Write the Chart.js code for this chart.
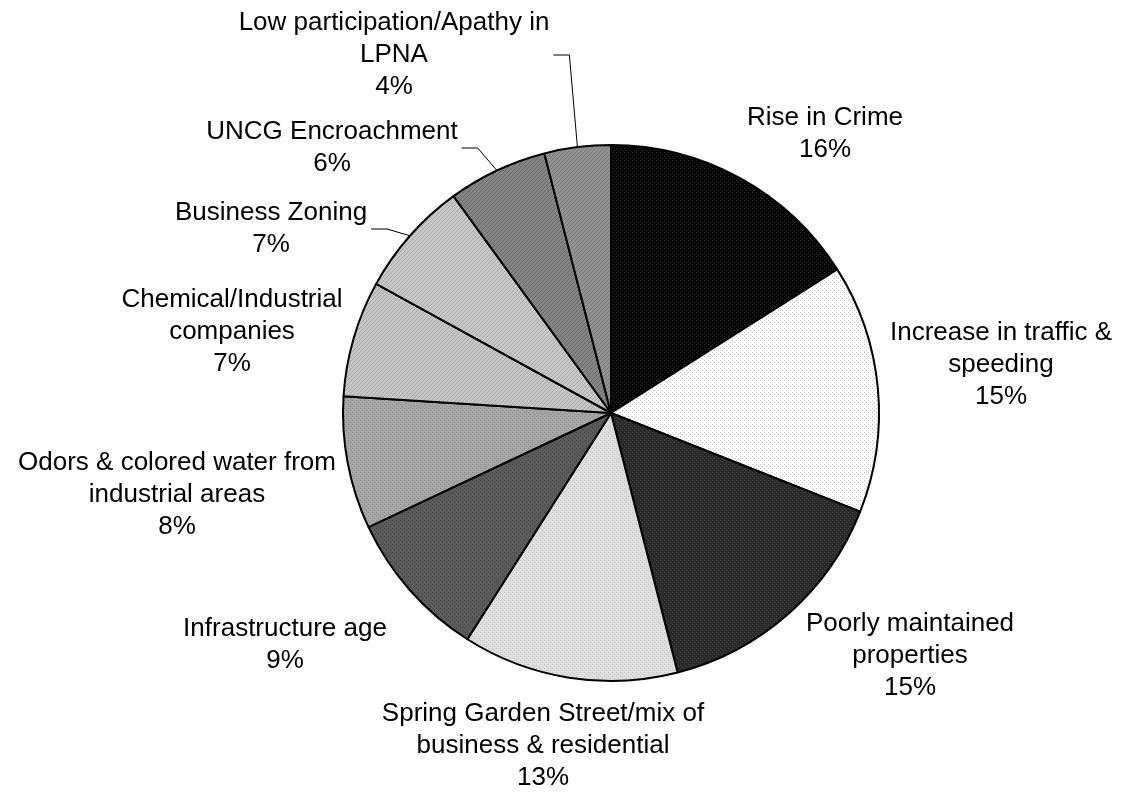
<!DOCTYPE html>
<html>
<head>
<meta charset="utf-8">
<script src="https://cdn.jsdelivr.net/npm/chart.js@4.4.1/dist/chart.umd.min.js"></script>
<style>
  body { margin: 0; background: #fff; }
  canvas { display: block; }
</style>
</head>
<body>
<canvas id="myChart" width="1122" height="793"></canvas>
<script>
// categories (as wrapped in the original) and their shares in %
var categories = [
   ["Rise in Crime"],
   ["Increase in traffic &", "speeding"],
   ["Poorly maintained", "properties"],
   ["Spring Garden Street/mix of", "business & residential"],
   ["Infrastructure age"],
   ["Odors & colored water from", "industrial areas"],
   ["Chemical/Industrial", "companies"],
   ["Business Zoning"],
   ["UNCG Encroachment"],
   ["Low participation/Apathy in", "LPNA"]
];
var shares = [16, 15, 15, 13, 9, 8, 7, 7, 6, 4];

// fill styles per slice: base grey, dot grey, texture kind
var baseColors = ["#050505", "#ffffff", "#2a2a2a", "#dedede", "#5a5a5a", "#a6a6a6", "#c6c6c6", "#c8c8c8", "#858585", "#939393"];
var dotColors  = ["#2a2a2a", "#c8c8c8", "#444444", "#c4c4c4", "#484848", "#8a8a8a", "#a8a8a8", "#aaaaaa", "#6a6a6a", "#777777"];
var textures   = ["dots", "dots", "dots", "dots", "dots", "dots", "diag", "diag", "diag", "diag"];

// label block centre relative to pie centre, and which ones get a leader line
var labelOffsets = [[214, -279], [390, -48], [299, 243], [-68, 333], [-326, 232],
                    [-434, 82], [-379, -81], [-340, -184], [-279, -265], [-217, -358]];
var leaders = [false, false, false, false, false, false, false, true, true, true];

function makeFill(base, dot, kind) {
   var c = document.createElement('canvas');
   c.width = 4; c.height = 4;
   var g = c.getContext('2d');
   g.fillStyle = base;
   g.fillRect(0, 0, 4, 4);
   g.fillStyle = dot;
   if (kind == "dots") {
      g.fillRect(0, 0, 1, 1);
      g.fillRect(2, 2, 1, 1);
   } else {
      for (var k = 0; k < 4; k++) g.fillRect(k, 3 - k, 1, 1);
   }
   return g.createPattern(c, 'repeat');
}

var fills = baseColors.map(function (b, i) { return makeFill(b, dotColors[i], textures[i]); });

var FONT_SIZE = 26;
var LINE_H = 32;

var pieLabels = {
   id: 'pieLabels',
   afterDatasetsDraw: function (chart) {
      var ctx = chart.ctx;
      var arcs = chart.getDatasetMeta(0).data;
      ctx.save();
      ctx.font = FONT_SIZE + 'px "Liberation Sans", Arial, sans-serif';
      ctx.fillStyle = '#000';
      ctx.textAlign = 'center';
      ctx.textBaseline = 'middle';
      arcs.forEach(function (arc, i) {
         var lines = categories[i].concat([shares[i] + '%']);
         var cx = arc.x + labelOffsets[i][0];
         var cy = arc.y + labelOffsets[i][1];
         var top = cy - (lines.length - 1) * LINE_H / 2;
         var maxW = 0;
         lines.forEach(function (t, j) {
            ctx.fillText(t, cx, top + j * LINE_H);
            maxW = Math.max(maxW, ctx.measureText(t).width);
         });
         if (leaders[i]) {
            var mid = (arc.startAngle + arc.endAngle) / 2;
            var px = arc.x + Math.cos(mid) * arc.outerRadius;
            var py = arc.y + Math.sin(mid) * arc.outerRadius;
            var sx = cx + maxW / 2 + 4;
            var sy = lines.length > 2 ? top + LINE_H : cy;
            ctx.beginPath();
            ctx.strokeStyle = '#000';
            ctx.lineWidth = 1;
            ctx.moveTo(sx, sy);
            ctx.lineTo(sx + 16, sy);
            ctx.lineTo(px, py);
            ctx.stroke();
         }
      });
      ctx.restore();
   }
};

var chart = new Chart(document.getElementById("myChart"), {
   type: 'pie',
   data: {
      labels: categories.map(function (c) { return c.join(' '); }),
      datasets: [
         {
            data: shares,
            backgroundColor: fills,
            borderColor: '#000',
            borderWidth: 2,
            hoverOffset: 0,
            offset: 0
         }
      ]
   },
   options: {
      responsive: false,
      animation: false,
      devicePixelRatio: 1,
      layout: { padding: { top: 144, bottom: 111, left: 342, right: 242 } },
      plugins: {
         legend: { display: false },
         tooltip: { enabled: false }
      }
   },
   plugins: [pieLabels]
});
</script>
</body>
</html>
